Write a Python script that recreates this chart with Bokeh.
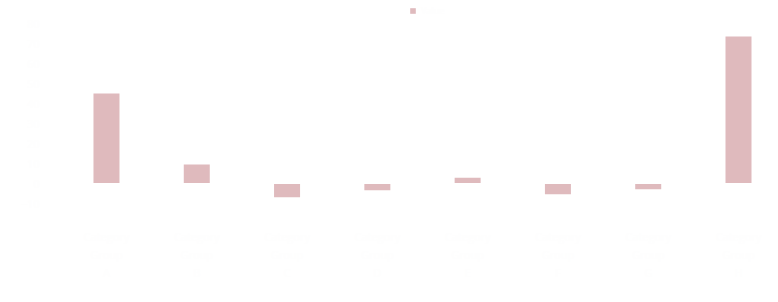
from bokeh.plotting import figure
from bokeh.models import Range1d, ColumnDataSource, Legend, LegendItem, FixedTicker, Span
from bokeh.embed import file_html
from bokeh.resources import INLINE

categories = ["Category\nGroup\nA", "Category\nGroup\nB", "Category\nGroup\nC", "Category\nGroup\nD",
              "Category\nGroup\nE", "Category\nGroup\nF", "Category\nGroup\nG", "Category\nGroup\nH"]
values = [45.0, 9.5, -6.85, -3.35, 2.85, -5.35, -2.85, 73.5]
series_name = "Value"
y_ticks = [-10, 0, 10, 20, 30, 40, 50, 60, 70, 80]

FAINT = "#fefefe"
LINE = "#ffffff"
BAR = "#dfbabd"

xs = list(range(len(categories)))
src = ColumnDataSource(dict(x=xs, top=values))

p = figure(width=778, height=302, output_backend="svg", toolbar_location=None,
           x_range=Range1d(-0.620, 7.443), y_range=Range1d(-18.5, 89.0),
           min_border_left=50, min_border_right=0, min_border_top=5, min_border_bottom=82)
p.background_fill_color = "white"
p.border_fill_color = "white"
p.outline_line_color = None

r = p.vbar(x="x", top="top", bottom=0, width=0.288, source=src, fill_color=BAR, line_color=None)
p.add_layout(Span(location=0, dimension="width", line_color=LINE, line_width=1, level="overlay"))

p.xaxis.ticker = FixedTicker(ticks=xs)
p.xaxis.major_label_overrides = {i: c for i, c in enumerate(categories)}
p.xaxis.major_label_standoff = 2
p.yaxis.ticker = FixedTicker(ticks=y_ticks)
for ax in (p.xaxis, p.yaxis):
    ax.axis_line_color = LINE
    ax.major_tick_line_color = LINE
    ax.minor_tick_line_color = None
    ax.major_label_text_color = FAINT
    ax.major_label_text_font = "Open Sans"
    ax.major_label_text_font_size = "11px"
p.xgrid.grid_line_color = None
p.ygrid.grid_line_color = LINE

legend = Legend(items=[LegendItem(label=series_name, renderers=[r])],
                location=(359, 203), orientation="horizontal",
                padding=0, margin=0, spacing=0,
                glyph_width=7, glyph_height=7, label_height=7,
                label_standoff=5, label_text_font_size="9px",
                label_text_color=FAINT, label_text_font="Open Sans",
                border_line_color=None, background_fill_alpha=0)
p.add_layout(legend)

open("out.html", "w").write(file_html(p, INLINE))
